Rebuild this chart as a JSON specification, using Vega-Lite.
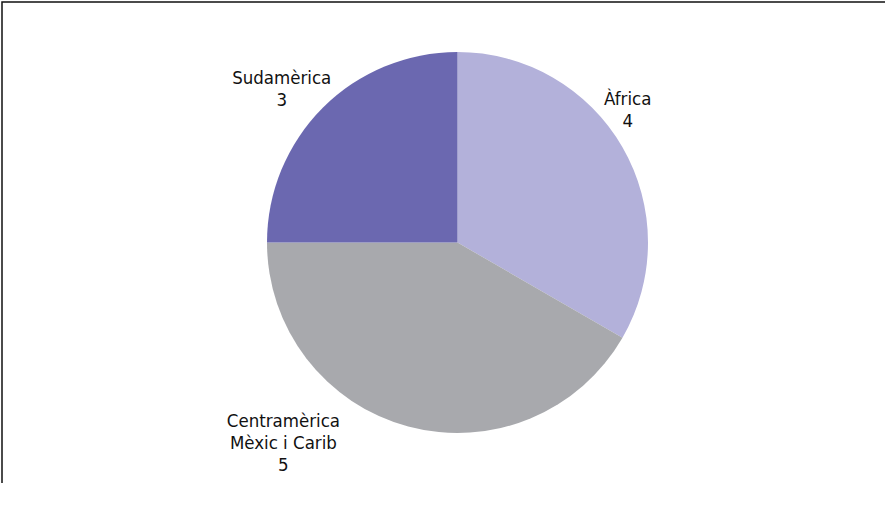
{
  "$schema": "https://vega.github.io/schema/vega-lite/v6.json",
  "width": 911,
  "height": 481,
  "autosize": {"type": "none"},
  "padding": {"left": 2, "top": 2, "right": -28, "bottom": 42},
  "background": "white",
  "view": {"stroke": "#111111", "strokeWidth": 1.5, "strokeDash": [911, 1392, 481]},
  "config": {
    "view": {"stroke": "#111111", "strokeWidth": 1.5, "strokeDash": [911, 1392, 481]},
    "text": {"font": "DejaVu Sans Condensed, Liberation Sans Narrow, sans-serif", "fontSize": 18.5, "lineHeight": 22, "color": "#111111"}
  },
  "data": {
    "values": [
      {"name": "Àfrica", "value": 4},
      {"name": "Centramèrica\nMèxic i Carib", "value": 5},
      {"name": "Sudamèrica", "value": 3}
    ]
  },
  "transform": [
    {"window": [{"op": "row_number", "as": "i"}]},
    {"calculate": "datum.name + '\\n' + datum.value", "as": "label"}
  ],
  "encoding": {
    "theta": {"field": "value", "type": "quantitative", "stack": true},
    "order": {"field": "i", "type": "quantitative"}
  },
  "layer": [
    {
      "mark": {"type": "arc", "outerRadius": 190.5},
      "encoding": {
        "color": {
          "field": "name",
          "type": "nominal",
          "sort": null,
          "scale": {"domain": ["Àfrica", "Centramèrica\nMèxic i Carib", "Sudamèrica"], "range": ["#b3b1da", "#a8a9ad", "#6b68b0"]},
          "legend": null
        }
      }
    },
    {
      "mark": {"type": "text", "align": "center", "baseline": "middle", "lineBreak": "\n", "dx": -16, "dy": -36},
      "encoding": {
        "radius": {"value": 215},
        "text": {"condition": {"test": "datum.name === 'Àfrica'", "field": "label"}, "value": ""}
      }
    },
    {
      "mark": {"type": "text", "align": "center", "baseline": "middle", "lineBreak": "\n", "dx": -112, "dy": -53},
      "encoding": {
        "radius": {"value": 240},
        "text": {"condition": {"test": "indexof(datum.name, 'Centram') === 0", "field": "label"}, "value": ""}
      }
    },
    {
      "mark": {"type": "text", "align": "center", "baseline": "middle", "lineBreak": "\n", "dx": -11, "dy": 0},
      "encoding": {
        "radius": {"value": 233},
        "text": {"condition": {"test": "datum.name === 'Sudamèrica'", "field": "label"}, "value": ""}
      }
    }
  ]
}
